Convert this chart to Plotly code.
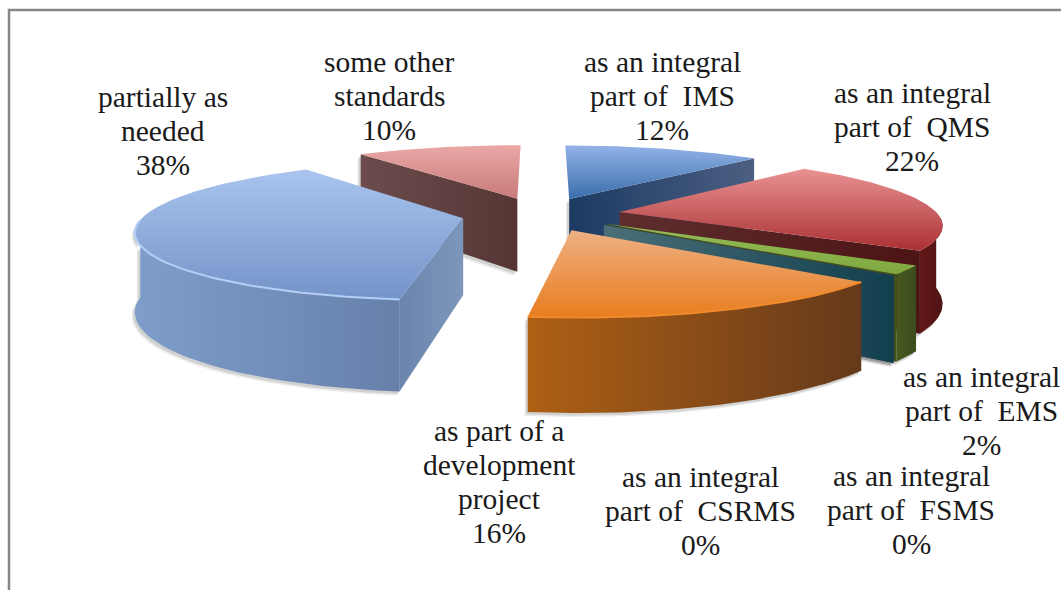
import numpy as np
import plotly.graph_objects as go

categories = [
    "as an integral<br>part of\u00a0 IMS",
    "as an integral<br>part of\u00a0 QMS",
    "as an integral<br>part of\u00a0 EMS",
    "as an integral<br>part of\u00a0 FSMS",
    "as an integral<br>part of\u00a0 CSRMS",
    "as part of a<br>development<br>project",
    "partially as<br>needed",
    "some other<br>standards",
]
values = [12, 22, 2, 0, 0, 16, 38, 10]

# --- look of the slices: top (front, back), wall (left, right), radial face (left, right), rim ---
styles = [
    dict(top=("#3a6dab", "#93b3e8"), wall=("#1d3d66", "#1d3d66"), face=("#1c3a62", "#4c5f82"), rim=None),
    dict(top=("#aa3033", "#e99293"), wall=("#641818", "#4e1414"), face=("#5e2e2e", "#4d1414"), rim=None),
    dict(top=("#7fa83f", "#95bd58"), wall=("#47591f", "#3c4d1c"), face=("#3e4f1d", "#3e4f1d"), rim=None),
    dict(top=("#8064a2", "#8064a2"), wall=("#403152", "#403152"), face=("#403152", "#403152"), rim=None),
    dict(top=("#4bacc6", "#4bacc6"), wall=("#215968", "#215968"), face=("#4a6f78", "#123f4e"), rim=None),
    dict(top=("#e87d1e", "#eeb083"), wall=("#ae6014", "#65391a"), face=("#ae6014", "#65391a"), rim="#f08a2c"),
    dict(top=("#7493c8", "#a9c4ee"), wall=("#7f9dcb", "#6680aa"), face=("#6a85ad", "#7d96bb"), rim="#b4cff6"),
    dict(top=("#c77a79", "#eaa8a6"), wall=("#6c4c4c", "#563535"), face=("#6c4c4c", "#563535"), rim=None),
]

# painter's order, back to front
draw_order = [7, 0, 6, 1, 2, 3, 4, 5]

label_pos = [(662, 96), (912, 127), (981, 411), (911, 510), (700, 511), (499, 482), (163, 131), (389, 96)]
LINE_STEP = 34

CX, CY = 541, 214
RX, RY = 318, 67
PERSP = 0.165
HEIGHT = 76
EXPLODE = 0.25


def project(u, v, drop=0.0):
    s = 1 / (1 - PERSP * v)
    return CX + RX * u * s, CY + (RY * v + drop * HEIGHT) * s


def polygon(fig, x, y, colors, kind="horizontal"):
    fig.add_trace(go.Scatter(
        x=np.append(x, x[0]),
        y=np.append(y, y[0]),
        mode="lines",
        fill="toself",
        line=dict(width=0),
        fillgradient=dict(type=kind, colorscale=[[0, colors[0]], [1, colors[1]]]),
        hoverinfo="skip",
        showlegend=False,
    ))


def shadow(fig, x, y):
    for off, alpha in ((4, 0.10), (2.5, 0.16)):
        fig.add_trace(go.Scatter(
            x=np.append(x, x[0]) - off * 0.8,
            y=np.append(y, y[0]) + off,
            mode="lines",
            fill="toself",
            fillcolor=f"rgba(70,70,70,{alpha})",
            line=dict(width=0),
            hoverinfo="skip",
            showlegend=False,
        ))


def wall_between(u, v):
    # quad strip hanging from a top edge
    xt, yt = project(u, v)
    xb, yb = project(u, v, 1.0)
    return np.r_[xt, xb[::-1]], np.r_[yt, yb[::-1]]


fig = go.Figure()

edges = np.cumsum([0] + values) / sum(values) * 360

# shadows go underneath everything
for i in draw_order:
    a1, a2 = edges[i], edges[i + 1]
    mid = np.radians((a1 + a2) / 2)
    ou, ov = EXPLODE * np.sin(mid), -EXPLODE * np.cos(mid)
    if values[i] > 0:
        front = np.radians(np.linspace(a1, a2, 60))
        front = front[(np.degrees(front) >= 90) & (np.degrees(front) <= 270)]
        if len(front) > 1:
            x, y = wall_between(ou + np.sin(front), ov - np.cos(front))
            shadow(fig, x, y)
    for ang, normal in ((a1, a1 - 90), (a2, a2 + 90)):
        if -np.cos(np.radians(normal)) > 1e-6:
            t = np.radians(ang)
            x, y = wall_between(np.array([ou, ou + np.sin(t)]), np.array([ov, ov - np.cos(t)]))
            shadow(fig, x, y)

for i in draw_order:
    a1, a2 = edges[i], edges[i + 1]
    st = styles[i]
    mid = np.radians((a1 + a2) / 2)
    ou, ov = EXPLODE * np.sin(mid), -EXPLODE * np.cos(mid)

    # radial faces turned towards the viewer
    for ang, normal in ((a1, a1 - 90), (a2, a2 + 90)):
        if -np.cos(np.radians(normal)) > 1e-6:
            t = np.radians(ang)
            x, y = wall_between(np.array([ou, ou + np.sin(t)]), np.array([ov, ov - np.cos(t)]))
            polygon(fig, x, y, st["face"])

    if values[i] == 0:
        continue

    t = np.radians(np.linspace(a1, a2, 80))
    au, av = ou + np.sin(t), ov - np.cos(t)

    # outer wall, front half only
    keep = (np.degrees(t) >= 90) & (np.degrees(t) <= 270)
    if keep.sum() > 1:
        x, y = wall_between(au[keep], av[keep])
        polygon(fig, x, y, st["wall"])

    # top
    x, y = project(np.r_[ou, au], np.r_[ov, av])
    polygon(fig, x, y, st["top"], "vertical")

    if st["rim"] and keep.sum() > 1:
        x, y = project(au[keep], av[keep])
        fig.add_trace(go.Scatter(x=x, y=y, mode="lines", line=dict(color=st["rim"], width=2),
                                 hoverinfo="skip", showlegend=False))

# one annotation per line, the reference's line spacing is tighter than plotly's
for name, val, (lx, ly) in zip(categories, values, label_pos):
    lines = name.split("<br>") + [f"{val}%"]
    for n, line in enumerate(lines):
        fig.add_annotation(x=lx, y=ly + (n - (len(lines) - 1) / 2) * LINE_STEP, text=line, showarrow=False,
                           font=dict(family="Liberation Serif", size=29.5, color="#1a1a1a"))

fig.update_layout(
    width=1061,
    height=590,
    margin=dict(l=0, r=0, t=0, b=0),
    paper_bgcolor="white",
    plot_bgcolor="white",
    xaxis=dict(range=[0, 1061], visible=False, fixedrange=True),
    yaxis=dict(range=[590, 0], visible=False, fixedrange=True),
    shapes=[dict(type="rect", x0=9, y0=10, x1=1090, y1=620, line=dict(color="#868686", width=2.5))],
)

fig.write_html("out.html", config=dict(displayModeBar=False),
               post_script="document.body.style.margin='0';document.body.style.overflow='hidden';")
